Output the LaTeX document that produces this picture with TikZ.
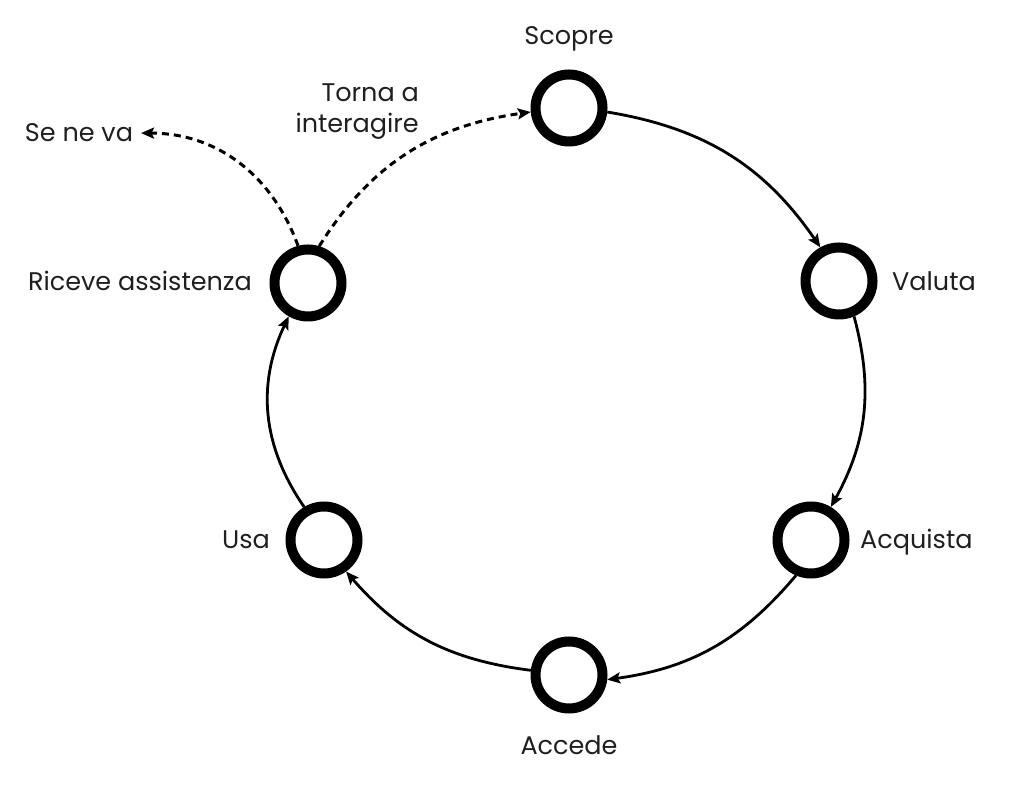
\documentclass[tikz,border=0pt]{standalone}
\usepackage{fontspec}
\setmainfont{Poppins}
\usetikzlibrary{arrows.meta}
\begin{document}
\begin{tikzpicture}[x=1pt,y=1pt,
  stage/.style={circle, draw=black, line width=10pt, minimum size=67pt, inner sep=0pt},
  lbl/.style={font=\fontsize{25.5}{31}\selectfont, text=black!88, inner sep=0pt},
  flow/.style={line width=2.8pt, -{Stealth[length=13pt,width=11pt,inset=2.5pt]}},
  alt/.style={flow, line width=3pt, dash pattern=on 7pt off 5pt}]
\useasboundingbox (0,0) rectangle (1024,786);
% stages
\node[stage] (sco) at (569,678) {};
\node[stage] (val) at (839,505) {};
\node[stage] (acq) at (811,246) {};
\node[stage] (acc) at (569,111) {};
\node[stage] (usa) at (324,246) {};
\node[stage] (ric) at (308,503) {};
% labels
\node[lbl, anchor=base] (tsco) at (569,741) {Scopre};
\node[lbl, anchor=base west] (tval) at (892,495) {Valuta};
\node[lbl, anchor=base west] (tacq) at (860,237) {Acquista};
\node[lbl, anchor=base] (tacc) at (569,31) {Accede};
\node[lbl, anchor=base east] (tusa) at (270,237) {Usa};
\node[lbl, anchor=base east] (tric) at (252,495) {Riceve assistenza};
\node[lbl, anchor=base east, outer xsep=8pt] (sne) at (141,644) {Se ne va};
\node[lbl, anchor=base east, align=right] (torna) at (419,653) {Torna a\\interagire};
% cycle
\draw[flow] (sco.-6) to[bend left=23] (val.119);
\draw[flow] (val.-67) to[bend left=22] (acq.59);
\draw[flow] (acq.-113) to[bend left=21] (acc.-7);
\draw[flow] (acc.173) to[bend left=21] (usa.-55);
\draw[flow] (usa.121) to[bend left=30] (ric.-120);
% dashed exits
\draw[alt] (ric.73) to[out=58, in=188] (sco.186);
\draw[alt] (ric.105) to[out=110, in=0] (sne);
\end{tikzpicture}
\end{document}
